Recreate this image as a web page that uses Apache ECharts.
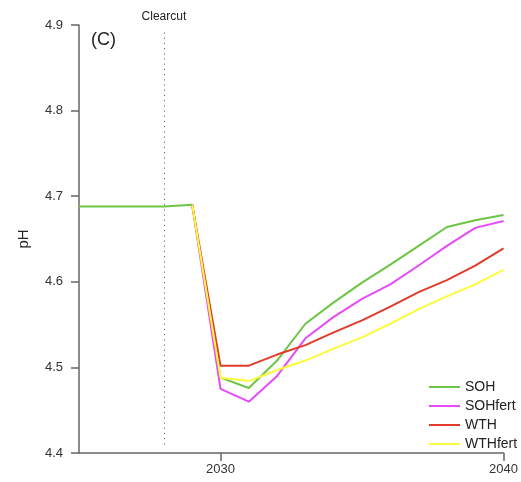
<!DOCTYPE html>
<html>
<head>
<meta charset="utf-8">
<script src="https://cdn.jsdelivr.net/npm/echarts@6/dist/echarts.min.js"></script>
<style>html,body{margin:0;padding:0;background:#fff;}#chart{width:521px;height:482px;}</style>
</head>
<body>
<div id="chart"></div>
<script>
const years = [2025,2026,2027,2028,2029,2030,2031,2032,2033,2034,2035,2036,2037,2038,2039,2040];
const SOH      = [4.688,4.688,4.688,4.688,4.690,4.488,4.476,4.508,4.551,4.576,4.599,4.620,4.642,4.664,4.672,4.678];
const SOHfert  = [null,null,null,null,4.690,4.475,4.460,4.490,4.534,4.559,4.580,4.597,4.619,4.642,4.663,4.671];
const WTH      = [null,null,null,null,4.690,4.502,4.502,4.515,4.526,4.541,4.555,4.571,4.588,4.602,4.619,4.639];
const WTHfert  = [null,null,null,null,4.690,4.488,4.484,4.497,4.508,4.522,4.535,4.551,4.568,4.583,4.597,4.614];
const xTicks = [2030, 2040];
const clearcutYear = 2028;
const seriesNames = ['SOH','SOHfert','WTH','WTHfert'];
const seriesColors = ['#6cc545','#e54cf7','#e03c28','#fbfb3c'];
const seriesValues = [SOH, SOHfert, WTH, WTHfert];

const pairs = vals => years.map((y,i) => [y, vals[i]]).filter(p => p[1] !== null);

const chart = echarts.init(document.getElementById('chart'), null, {renderer:'canvas'});
const font = 'Liberation Sans, Arial, sans-serif';
const series = seriesNames.map((n,i) => ({
  name: n, type: 'line', data: pairs(seriesValues[i]), symbol: 'none',
  lineStyle: {color: seriesColors[i], width: 2}, itemStyle: {color: seriesColors[i]},
  animation: false, z: 2 + i
}));
series[0].markLine = {
  silent: true, symbol: 'none', animation: false,
  lineStyle: {color: '#666', type: [1.2, 4], width: 1},
  label: {show: true, position: 'end', formatter: 'Clearcut', color: '#222', fontSize: 12, fontFamily: font, distance: 7},
  data: [[{coord: [clearcutYear, 4.41]}, {coord: [clearcutYear, 4.895]}]]
};
chart.setOption({
  backgroundColor: '#fff',
  animation: false,
  title: {text: '(C)', left: 86, top: 26, textStyle: {fontSize: 18, fontWeight: 'normal', color: '#222', fontFamily: font}},
  grid: {left: 79, right: 14, top: 25, bottom: 29},
  legend: {
    orient: 'vertical', left: 424, top: 375, itemWidth: 31, itemHeight: 2, itemGap: 5, icon: 'rect',
    textStyle: {fontSize: 14, color: '#222', fontFamily: font},
    data: seriesNames
  },
  xAxis: {
    type: 'value', min: 2025, max: 2040,
    splitLine: {show: false},
    axisLine: {show: true, lineStyle: {color: '#666', width: 1.5}},
    axisTick: {show: true, customValues: xTicks, length: 8, lineStyle: {color: '#666', width: 1.5}},
    axisLabel: {customValues: xTicks, margin: 10, fontSize: 13, color: '#333', fontFamily: font, formatter: v => String(v)}
  },
  yAxis: {
    type: 'value', min: 4.4, max: 4.9, interval: 0.1,
    name: 'pH', nameLocation: 'middle', nameGap: 48, nameRotate: 90,
    nameTextStyle: {fontSize: 15, color: '#222', fontFamily: font},
    splitLine: {show: false},
    axisLine: {show: true, lineStyle: {color: '#666', width: 1.5}},
    axisTick: {show: true, length: 8, lineStyle: {color: '#666', width: 1.5}},
    axisLabel: {margin: 16, fontSize: 13, color: '#333', fontFamily: font, formatter: v => v.toFixed(1)}
  },
  series: series
});
</script>
</body>
</html>
